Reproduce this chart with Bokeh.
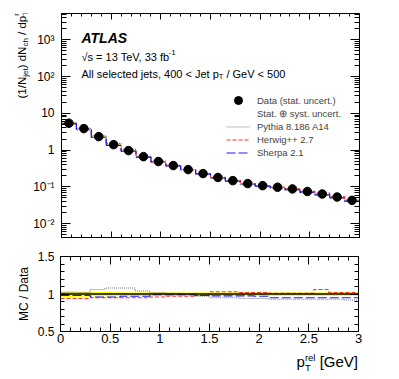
import math
from bokeh.plotting import figure
from bokeh.layouts import column, row
from bokeh.models import (Range1d, LinearAxis, LogAxis, FixedTicker, Label, Span,
                          Legend, LegendItem)
from bokeh.embed import file_html
from bokeh.resources import INLINE

# ---------------- data ----------------
bin_edges = [0.0, 0.15, 0.30, 0.45, 0.60, 0.75, 0.90, 1.05, 1.20, 1.35, 1.50,
             1.65, 1.80, 1.95, 2.10, 2.25, 2.40, 2.55, 2.70, 2.85, 3.0]
data_vals = [5.4, 3.85, 2.33, 1.41, 0.97, 0.665, 0.49, 0.38, 0.295, 0.23,
             0.18, 0.148, 0.123, 0.108, 0.098, 0.088, 0.075, 0.064, 0.053, 0.043]
band_unc = [0.04, 0.035, 0.03, 0.03, 0.025, 0.025, 0.025, 0.025, 0.025, 0.025,
            0.025, 0.025, 0.025, 0.025, 0.025, 0.025, 0.025, 0.025, 0.025, 0.025]
pythia_ratio = [1.02, 1.02, 1.06, 1.08, 1.08, 1.04, 1.02, 1.01, 1.00, 0.97,
                0.95, 0.95, 0.94, 0.94, 0.93, 0.93, 0.93, 0.93, 0.93, 0.92]
herwig_ratio = [0.94, 0.94, 0.95, 0.95, 0.95, 0.95, 0.96, 0.97, 0.97, 0.98,
                1.03, 1.03, 1.02, 1.02, 1.01, 1.01, 1.01, 1.06, 1.02, 1.02]
sherpa_ratio = [0.98, 0.98, 0.96, 0.96, 0.97, 0.97, 0.99, 0.99, 0.99, 0.98,
                0.975, 0.975, 0.975, 0.97, 0.95, 0.95, 0.95, 0.95, 0.95, 0.95]

x_tick_vals = [0, 0.5, 1, 1.5, 2, 2.5, 3]
x_tick_labels = ["0", "0.5", "1", "1.5", "2", "2.5", "3"]
y_log_ticks = [0.01, 0.1, 1, 10, 100, 1000]
y_log_labels = ["10\u207b\u00b2", "10\u207b\u00b9", "1", "10", "10\u00b2", "10\u00b3"]
ratio_ticks = [0.5, 1.0, 1.5]
ratio_labels = ["0.5", "1", "1.5"]

legend_labels = ["Data (stat. uncert.)", "Stat. \u2295 syst. uncert.",
                 "Pythia 8.186 A14", "Herwig++ 2.7", "Sherpa 2.1"]

FONT = "Liberation Sans"

# ---------------- helpers ----------------
W = {' ': 278, '!': 278, '(': 333, ')': 333, ',': 278, '-': 333, '.': 278, '/': 278,
     '<': 584, '=': 584, '>': 584, '+': 584, '[': 278, ']': 278, '\u221a': 549,
     'A': 667, 'B': 667, 'C': 722, 'D': 722, 'E': 667, 'F': 611, 'G': 778, 'H': 722,
     'I': 278, 'J': 500, 'K': 667, 'L': 556, 'M': 833, 'N': 722, 'O': 778, 'P': 667,
     'Q': 778, 'R': 722, 'S': 667, 'T': 611, 'U': 722, 'V': 667, 'W': 944, 'X': 667,
     'Y': 667, 'Z': 611, 'a': 556, 'b': 556, 'c': 500, 'd': 556, 'e': 556, 'f': 278,
     'g': 556, 'h': 556, 'i': 222, 'j': 222, 'k': 500, 'l': 222, 'm': 833, 'n': 556,
     'o': 556, 'p': 556, 'q': 556, 'r': 333, 's': 500, 't': 278, 'u': 556, 'v': 500,
     'w': 722, 'x': 500, 'y': 500, 'z': 500}
for d in "0123456789":
    W[d] = 556


def tw(s, size):
    return sum(W.get(c, 556) for c in s) * size / 1000.0


def rich(fig, groups, x0, y0, angle=0.0, align="left", units="screen", bold_italic=False):
    """groups: list of lists of (text, size, shift_up, extra_advance); screen units have
    y up, canvas units have y down.  Leading/trailing blanks are turned into offsets."""
    ysign = 1.0 if units == "screen" else -1.0
    adv = [max(tw(t, s) + e for t, s, _, e in g) for g in groups]
    pos = 0.0 if align == "left" else -sum(adv)
    for g, a in zip(groups, adv):
        for t, s, sh, _ in g:
            lead = tw(t[:len(t) - len(t.lstrip(" "))], s)
            txt = t.strip(" ")
            p = pos + lead
            if angle == 0.0:
                x, y = x0 + p, y0 + ysign * sh
            else:
                x, y = x0 - sh, y0 + ysign * p
            fig.add_layout(Label(x=x, y=y, x_units=units, y_units=units, text=txt,
                                 text_font=FONT, text_font_size=f"{s}px",
                                 text_font_style="bold italic" if bold_italic else "normal",
                                 text_color="black", text_align="left",
                                 text_baseline="alphabetic", angle=angle))
        pos += a


def style_axis(ax, ticker, maj_in, min_in, labels=None, font_size="12px", standoff=5):
    ax.ticker = ticker
    ax.major_tick_in = maj_in
    ax.major_tick_out = 0
    ax.minor_tick_in = min_in
    ax.minor_tick_out = 0
    ax.axis_line_color = "black"
    ax.major_tick_line_color = "black"
    ax.minor_tick_line_color = "black"
    if labels is None:
        ax.major_label_overrides = {v: "" for v in ticker.ticks}
        ax.major_label_text_font_size = "0px"
        ax.major_label_standoff = 0
    else:
        ax.major_label_overrides = dict(zip(ticker.ticks, labels))
        ax.major_label_text_font_size = font_size
        ax.major_label_text_font = FONT
        ax.major_label_text_color = "black"
        ax.major_label_standoff = standoff


def text_panel(w, h):
    f = figure(width=w, height=h, x_range=Range1d(0, 1), y_range=Range1d(0, 1),
               x_axis_type=None, y_axis_type=None, output_backend="svg",
               toolbar_location=None, min_border=0, outline_line_color=None)
    f.grid.visible = False
    return f


x_minor = [round(0.1 * i, 2) for i in range(1, 30) if i % 5 != 0]
log_minor = [k * 10.0 ** e for e in range(-3, 4) for k in range(2, 10)]
r_minor = [round(0.5 + 0.1 * i, 2) for i in range(1, 10) if i != 5]

step_x = bin_edges


def step_y(vals):
    return list(vals) + [vals[-1]]


pythia_vals = [d * r for d, r in zip(data_vals, pythia_ratio)]
herwig_vals = [d * r for d, r in zip(data_vals, herwig_ratio)]
sherpa_vals = [d * r for d, r in zip(data_vals, sherpa_ratio)]
centers = [(a + b) / 2 for a, b in zip(bin_edges[:-1], bin_edges[1:])]

PY = dict(line_color="#808080", line_dash="1 1", line_width=1.2)
HW = dict(line_color="#ff3030", line_dash="4 2", line_width=1.2)
SH = dict(line_color="#1a1aff", line_dash="9 3", line_width=1.2)

xr = Range1d(0, 3)

# ---------------- top panel: page x 30..383, y 0..249 ----------------
top = figure(frame_width=298, frame_height=224, x_range=xr,
             y_range=Range1d(4.2e-3, 5.2e3), y_axis_type="log",
             output_backend="svg", toolbar_location=None,
             min_border_left=30, min_border_right=25, min_border_top=13,
             min_border_bottom=12)
top.grid.visible = False
top.outline_line_color = "black"
top.background_fill_color = "white"

style_axis(top.xaxis[0], FixedTicker(ticks=x_tick_vals, minor_ticks=x_minor), 6, 3)
style_axis(top.yaxis[0], FixedTicker(ticks=y_log_ticks, minor_ticks=log_minor), 9, 5,
           labels=y_log_labels, font_size="12px", standoff=7)
ax_t = LinearAxis()
style_axis(ax_t, FixedTicker(ticks=x_tick_vals, minor_ticks=x_minor), 6, 3)
top.add_layout(ax_t, "above")
ax_r = LogAxis()
style_axis(ax_r, FixedTicker(ticks=y_log_ticks, minor_ticks=log_minor), 9, 5)
top.add_layout(ax_r, "right")

top.quad(left=bin_edges[:-1], right=bin_edges[1:],
         bottom=[d * (1 - u) for d, u in zip(data_vals, band_unc)],
         top=[d * (1 + u) for d, u in zip(data_vals, band_unc)],
         fill_color="#ffff00", line_color=None)
r_py = top.step(step_x, step_y(pythia_vals), mode="after", **PY)
r_hw = top.step(step_x, step_y(herwig_vals), mode="after", **HW)
r_sh = top.step(step_x, step_y(sherpa_vals), mode="after", **SH)
r_data = top.scatter(centers, data_vals, size=8.5, color="black", marker="circle")
r_band_leg = top.line([], [], line_color="#ffff00", line_width=6)

leg_common = dict(orientation="vertical", glyph_width=24, spacing=0, padding=0, margin=0,
                  label_standoff=7, label_text_font=FONT, label_text_font_size="9.5px",
                  border_line_color=None, background_fill_alpha=0)
leg1 = Legend(items=[LegendItem(label=legend_labels[0], renderers=[r_data])],
              location=(165, 127), glyph_height=20, label_height=20, **leg_common)
leg2 = Legend(items=[LegendItem(label=legend_labels[1], renderers=[r_band_leg]),
                     LegendItem(label=legend_labels[2], renderers=[r_py]),
                     LegendItem(label=legend_labels[3], renderers=[r_hw]),
                     LegendItem(label=legend_labels[4], renderers=[r_sh])],
              location=(165, 78), glyph_height=13, label_height=13, **leg_common)
top.add_layout(leg1, "center")
top.add_layout(leg2, "center")

# texts inside the frame (canvas coords of the top figure: origin at page x=30, y=0)
rich(top, [[("ATLAS", 14, 0, 0)]], 81 - 30, 37, units="canvas", bold_italic=True)
rich(top, [[("\u221as = 13 TeV, 33 fb", 11, 0, -3)], [("-1", 8, 4.5, 0)]], 81 - 30, 56,
     units="canvas")
rich(top, [[("All selected jets, 400 < Jet p", 11, 0, 0)], [("T", 7.5, -2.5, 0)],
           [(" / GeV < 500", 11, 0, 0)]], 81 - 30, 73, units="canvas")

# y-axis title panel: page x 0..30, y 0..249
ytp = text_panel(30, 249)
rich(ytp, [[("(1/N", 11.5, 0, 0)], [("jet", 8, -3, 0)], [(") dN", 11.5, 0, 0)],
           [("ch", 8, -3, 0)], [(" / dp", 11.5, 0, 0)],
           [("T", 8, -3, 0), ("rel", 8, 6, 0)]],
     21.5, 249 - 110, angle=math.pi / 2)

# ---------------- ratio panel: page x 0..383, y 249..349 ----------------
bot = figure(frame_width=298, frame_height=75, x_range=xr, y_range=Range1d(0.5, 1.5),
             output_backend="svg", toolbar_location=None,
             min_border_left=60, min_border_right=25, min_border_top=7,
             min_border_bottom=18)
bot.grid.visible = False
bot.outline_line_color = "black"

style_axis(bot.xaxis[0], FixedTicker(ticks=x_tick_vals, minor_ticks=x_minor), 8, 4,
           labels=x_tick_labels, font_size="13px", standoff=2)
style_axis(bot.yaxis[0], FixedTicker(ticks=ratio_ticks, minor_ticks=r_minor), 8, 4,
           labels=ratio_labels, font_size="12px", standoff=6)
bot.yaxis[0].axis_label = "MC / Data"
bot.yaxis[0].axis_label_text_font = FONT
bot.yaxis[0].axis_label_text_font_size = "12px"
bot.yaxis[0].axis_label_text_font_style = "normal"
bot.yaxis[0].axis_label_text_color = "black"
bot.yaxis[0].axis_label_standoff = 4
bx_t = LinearAxis()
style_axis(bx_t, FixedTicker(ticks=x_tick_vals, minor_ticks=x_minor), 8, 4)
bot.add_layout(bx_t, "above")
by_r = LinearAxis()
style_axis(by_r, FixedTicker(ticks=ratio_ticks, minor_ticks=r_minor), 8, 4)
bot.add_layout(by_r, "right")

bot.quad(left=bin_edges[:-1], right=bin_edges[1:],
         bottom=[1 - u for u in band_unc], top=[1 + u for u in band_unc],
         fill_color="#ffff00", line_color=None)
bot.add_layout(Span(location=1.0, dimension="width", line_color="black", line_width=1.5))
bot.step(step_x, step_y(pythia_ratio), mode="after", **PY)
bot.step(step_x, step_y(herwig_ratio), mode="after", **HW)
bot.step(step_x, step_y(sherpa_ratio), mode="after", **SH)

# x-title panel: page y 349..371; its frame is aligned with the ratio frame (page x 60..358)
xtp = text_panel(383, 22)
rich(xtp, [[("p", 15, 0, 0)], [("T", 9.5, -5.5, 0), ("rel", 9.5, 4.5, 0)],
           [(" [GeV]", 15, 0, 0)]],
     357.5 - 60, 371 - 361, align="right")

layout = column(row(ytp, top), bot, xtp)
open("out.html", "w").write(file_html(layout, INLINE))
